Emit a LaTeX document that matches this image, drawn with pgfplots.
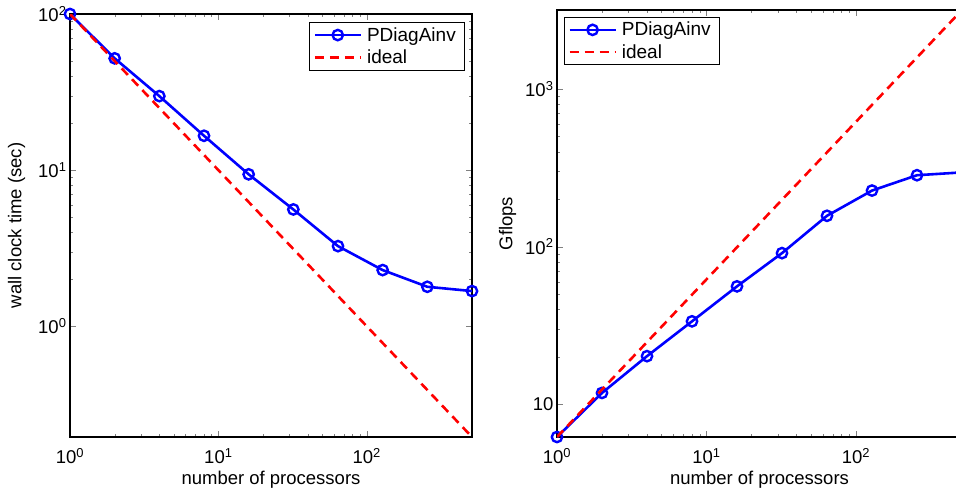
\documentclass[border=0pt]{standalone}
\usepackage{pgfplots}
\pgfplotsset{compat=1.18}
\usepackage{fontspec}
\setmainfont{Liberation Sans}
\pgfplotsset{
  legend image code/.code={\draw[mark repeat=2,mark phase=2,#1,line width=2.6pt] plot coordinates {(0pt,0pt) (23pt,0pt) (46pt,0pt)};},
  every axis/.append style={
    scale only axis,
    clip mode=individual,
    font=\fontsize{18.5}{20}\selectfont,
    axis line style={line width=1.2pt},
    major tick length=6pt, minor tick length=3pt,
    tick align=inside,
    xmin=1, xmax=512,
    xtick={1,10,100},
    xticklabels={10\textsuperscript{0},10\textsuperscript{1},10\textsuperscript{2}},
    xticklabel style={yshift=-8pt},
    xlabel={number of processors},
    xlabel style={yshift=-0.5pt},
    legend cell align=left,
    legend style={draw=black, line width=0.8pt, font=\fontsize{19}{20}\selectfont, inner xsep=4pt, inner ysep=3pt, row sep=3pt,
      nodes={inner xsep=5pt}},
  },
}
\tikzset{
  pd/.style={blue, line width=2.6pt, mark=o, mark size=5.2pt, mark options={solid, line width=2.4pt}},
  ideal/.style={red, line width=2.6pt, dash pattern=on 9pt off 6pt},
}
\begin{document}
\begin{tikzpicture}[x=1pt,y=1pt]
\begin{loglogaxis}[
  at={(70pt,51pt)}, anchor=south west,
  width=402pt, height=423pt,
  ymin=0.1953125, ymax=100,
  ytick={1,10,100},
  yticklabels={10\textsuperscript{0},10\textsuperscript{1},10\textsuperscript{2}},
  ylabel={wall clock time (sec)},
  ylabel style={yshift=6pt},
  legend style={at={(axis description cs:0.983,0.981)}, anchor=north east},
]
\addplot[pd] coordinates {
 (1,100) (2,52) (4,29.8) (8,16.6) (16,9.4) (32,5.6) (64,3.26) (128,2.29) (256,1.79) (512,1.68)
};
\addlegendentry{PDiagAinv}
\addplot[ideal] coordinates {(1,100) (512,0.1953125)};
\addlegendentry{ideal}
\end{loglogaxis}
\begin{loglogaxis}[
  at={(557pt,51pt)}, anchor=south west,
  width=405pt, height=427pt,
  ymin=6.2, ymax=3174.4,
  ytick={10,100,1000},
  yticklabels={10,10\textsuperscript{2},10\textsuperscript{3}},
  ylabel={Gflops},
  ylabel style={yshift=2pt},
  legend style={at={(axis description cs:0.017,0.984)}, anchor=north west},
]
\addplot[pd] coordinates {
 (1,6.2) (2,11.8) (4,20.2) (8,33.6) (16,56) (32,91) (64,157) (128,227) (256,284) (512,296)
};
\addlegendentry{PDiagAinv}
\addplot[ideal] coordinates {(1,6.2) (512,3174.4)};
\addlegendentry{ideal}
\end{loglogaxis}
\pgfresetboundingbox
\path[use as bounding box] (0,0) rectangle (956pt,488pt);
\end{tikzpicture}
\end{document}
